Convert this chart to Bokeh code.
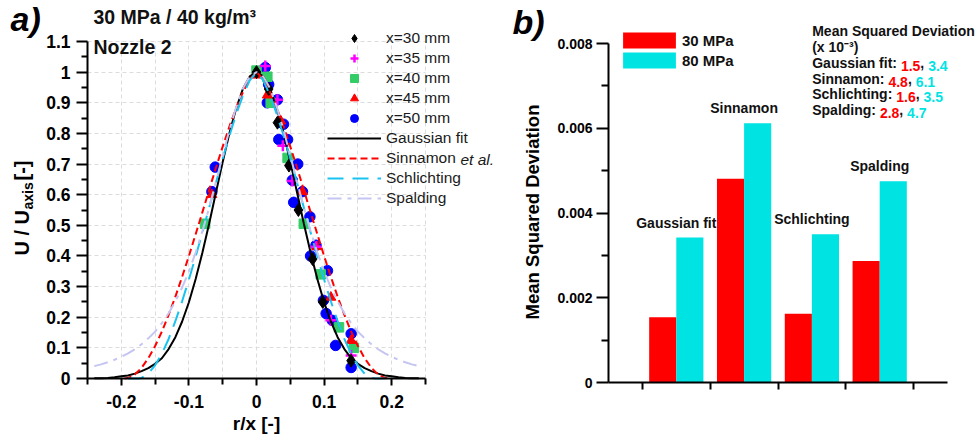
from math import pi
from bokeh.plotting import figure
from bokeh.layouts import row
from bokeh.models import Range1d, FixedTicker, Legend, LegendItem, Label, ColumnDataSource
from bokeh.embed import file_html
from bokeh.resources import INLINE
from bokeh.core.properties import value
from bokeh.transform import dodge

FONT = "Liberation Sans"

# ---------------- panel a) : measured points ----------------
r30 = [0.0, 0.018, 0.031, 0.048, 0.062, 0.083, 0.098, 0.140]
u30 = [1.0, 0.945, 0.835, 0.695, 0.55, 0.39, 0.25, 0.058]

r35 = [0.013, 0.031, 0.039, 0.053, 0.088, 0.110, 0.140]
u35 = [1.02, 0.91, 0.76, 0.645, 0.43, 0.19, 0.075]

r40 = [-0.076, 0.0, 0.016, 0.021, 0.046, 0.070, 0.095, 0.122, 0.144]
u40 = [0.505, 1.005, 0.985, 0.90, 0.72, 0.505, 0.34, 0.167, 0.10]

r45 = [-0.066, 0.0, 0.016, 0.036, 0.068, 0.089, 0.110, 0.140]
u45 = [0.60, 0.99, 0.925, 0.84, 0.61, 0.43, 0.265, 0.124]

r50 = [-0.066, -0.061, 0.013, 0.018, 0.016, 0.031, 0.040, 0.033, 0.046, 0.061,
       0.053, 0.055, 0.068, 0.079, 0.088, 0.080, 0.105, 0.099, 0.103, 0.112,
       0.117, 0.140, 0.140]
u50 = [0.61, 0.69, 1.015, 0.96, 0.90, 0.91, 0.83, 0.78, 0.78, 0.70,
       0.647, 0.575, 0.61, 0.528, 0.435, 0.40, 0.352, 0.255, 0.212, 0.19,
       0.108, 0.146, 0.036]

# ---------------- panel a) : model curves (half profiles, r/x >= 0) ----------------
gauss_r = [0.00, 0.01, 0.02, 0.03, 0.04, 0.05, 0.06, 0.07, 0.08, 0.09, 0.10, 0.11, 0.12,
           0.13, 0.14, 0.15, 0.16, 0.17, 0.18, 0.19, 0.20, 0.21, 0.22, 0.23, 0.24]
gauss_u = [1.0, 0.986, 0.946, 0.882, 0.801, 0.707, 0.607, 0.506, 0.411, 0.325, 0.249, 0.186,
           0.135, 0.096, 0.066, 0.048, 0.034, 0.024, 0.016, 0.010, 0.007, 0.004, 0.002, 0.001, 0.0005]

sinn_r = [0.00, 0.01, 0.02, 0.03, 0.04, 0.05, 0.06, 0.07, 0.08, 0.09, 0.10, 0.11, 0.12,
          0.13, 0.14, 0.15, 0.16, 0.17, 0.18, 0.19, 0.195]
sinn_u = [1.0, 0.977, 0.935, 0.883, 0.823, 0.757, 0.688, 0.616, 0.543, 0.471, 0.400, 0.332,
          0.267, 0.208, 0.153, 0.106, 0.066, 0.035, 0.0128, 0.0015, 0.0]

schl_r = [0.00, 0.01, 0.02, 0.03, 0.04, 0.05, 0.06, 0.07, 0.08, 0.09, 0.10, 0.11, 0.12,
          0.13, 0.14, 0.15, 0.16, 0.17, 0.175, 0.19]
schl_u = [1.0, 0.973, 0.924, 0.863, 0.793, 0.718, 0.639, 0.558, 0.477, 0.398, 0.323, 0.252,
          0.187, 0.129, 0.081, 0.043, 0.016, 0.0018, 0.0, 0.0]

spal_r = [0.00, 0.01, 0.02, 0.03, 0.04, 0.05, 0.06, 0.07, 0.08, 0.09, 0.10, 0.11, 0.12,
          0.13, 0.14, 0.15, 0.16, 0.17, 0.18, 0.19, 0.20, 0.21, 0.22, 0.23, 0.24]
spal_u = [1.0, 0.986, 0.947, 0.886, 0.811, 0.727, 0.642, 0.558, 0.481, 0.411, 0.350, 0.297,
          0.252, 0.213, 0.181, 0.153, 0.131, 0.112, 0.0955, 0.0821, 0.0707, 0.0612, 0.0531,
          0.0462, 0.0404]

xa_ticks = [-0.2, -0.1, 0, 0.1, 0.2]
xa_labels = ["-0.2", "-0.1", "0", "0.1", "0.2"]
xa_minor = [-0.25, -0.15, -0.05, 0.05, 0.15, 0.25]
ya_ticks = [0, 0.1, 0.2, 0.3, 0.4, 0.5, 0.6, 0.7, 0.8, 0.9, 1, 1.1]
ya_labels = ["0", "0.1", "0.2", "0.3", "0.4", "0.5", "0.6", "0.7", "0.8", "0.9", "1", "1.1"]
ya_minor = [0.05, 0.15, 0.25, 0.35, 0.45, 0.55, 0.65, 0.75, 0.85, 0.95, 1.05]

# ---------------- panel b) : mean squared deviation ----------------
methods = ["Gaussian fit", "Sinnamon", "Schlichting", "Spalding"]
msd_30 = [0.00154, 0.00481, 0.00162, 0.00287]
msd_80 = [0.00342, 0.00612, 0.00350, 0.00475]
msd_txt_30 = ["1.5", "4.8", "1.6", "2.8"]
msd_txt_80 = ["3.4", "6.1", "3.5", "4.7"]
yb_ticks = [0, 0.002, 0.004, 0.006, 0.008]
yb_labels = ["0", "0.002", "0.004", "0.006", "0.008"]
yb_minor = [0.001, 0.003, 0.005, 0.007]
xb_ticks = [0.5, 1.5, 2.5, 3.5, 4.5]

RED = "#ff0000"
CYAN = "#00e3e3"
TXT = "#111111"
H = 445


def mirror(r, u):
    rr = [-v for v in reversed(r[1:])] + list(r)
    uu = list(reversed(u[1:])) + list(u)
    return rr, uu


def full_frame_ranges(W, ax_l, ax_r, ax_t, ax_b, x0, x1, y0, y1):
    """Ranges so that the data box [x0,x1]x[y0,y1] lands on the given pixel box,
    with the plot frame covering the whole canvas (texts are then never clipped)."""
    kx = (ax_r - ax_l) / (x1 - x0)
    ky = (ax_b - ax_t) / (y1 - y0)
    return (Range1d(x0 - ax_l / kx, x1 + (W - ax_r) / kx),
            Range1d(y0 - (H - ax_b) / ky, y1 + ax_t / ky))


def style_axis(ax, size):
    ax.axis_line_width = 2
    ax.axis_line_color = "black"
    ax.major_tick_line_width = 2
    ax.minor_tick_line_width = 2
    ax.major_tick_in = 0
    ax.minor_tick_in = 0
    ax.major_label_text_font = FONT
    ax.major_label_text_font_style = "bold"
    ax.major_label_text_font_size = size
    ax.major_label_text_color = "black"


def add_label(p, x, y, text, size, style="bold", color=TXT, **kw):
    p.add_layout(Label(x=x, y=y, x_units="screen", y_units="screen", text=text,
                       text_font=FONT, text_font_size=size, text_font_style=style,
                       text_color=color, **kw))


# ============ figure a ============
W1 = 500
xr1, yr1 = full_frame_ranges(W1, 87, 425, 41, 378, -0.25, 0.25, 0.0, 1.1)
p1 = figure(width=W1, height=H, x_range=xr1, y_range=yr1, output_backend="svg",
            toolbar_location=None, min_border=0)
p1.outline_line_color = None
p1.background_fill_color = "white"
p1.border_fill_color = "white"

p1.xaxis.fixed_location = 0
p1.yaxis.fixed_location = -0.25
p1.xaxis.bounds = (-0.25, 0.25)
p1.yaxis.bounds = (0, 1.1)
xt1 = FixedTicker(ticks=xa_ticks, minor_ticks=xa_minor)
yt1 = FixedTicker(ticks=ya_ticks, minor_ticks=ya_minor)
p1.xaxis.ticker = xt1
p1.yaxis.ticker = yt1
p1.xaxis.major_label_overrides = {t: s for t, s in zip(xa_ticks, xa_labels)}
p1.yaxis.major_label_overrides = {t: s for t, s in zip(ya_ticks, ya_labels)}
style_axis(p1.xaxis[0], "17.5px")
style_axis(p1.yaxis[0], "17.5px")
p1.xaxis.major_tick_out = 7
p1.xaxis.minor_tick_out = 6
p1.yaxis.major_tick_out = 11
p1.yaxis.minor_tick_out = 6
p1.xaxis.major_label_standoff = 9
p1.yaxis.major_label_standoff = 6

p1.xgrid.ticker = xt1
p1.ygrid.ticker = yt1
p1.xgrid.bounds = (-0.25, 0.25)
p1.ygrid.bounds = (0, 1.1)
p1.xgrid.cross_bounds = (0, 1.1)
p1.ygrid.cross_bounds = (-0.25, 0.25)
p1.xgrid.grid_line_color = "#dcdcdc"
p1.xgrid.grid_line_dash = "4 3"
p1.xgrid.minor_grid_line_color = "#dcdcdc"
p1.xgrid.minor_grid_line_dash = "4 3"
p1.ygrid.grid_line_color = "#dcdcdc"
p1.ygrid.grid_line_dash = "4 3"

s50 = p1.scatter(r50, u50, marker="circle", size=10.5, color="#0000ff")
s40 = p1.scatter(r40, u40, marker="square", size=9.5, color="#33cc66")
s45 = p1.scatter(r45, u45, marker="triangle", size=10, color=RED)
s35 = p1.scatter(r35, u35, marker="cross", size=11, line_color="#ff00ff", line_width=2.5)
s30 = p1.scatter(r30, u30, marker="diamond", size=13, color="black")

gx, gy = mirror(gauss_r, gauss_u)
sx, sy = mirror(sinn_r, sinn_u)
cx, cy = mirror(schl_r, schl_u)
px, py = mirror(spal_r, spal_u)
lg = p1.line(gx, gy, line_color="black", line_width=2)
ls = p1.line(sx, sy, line_color=RED, line_width=2, line_dash="7 4")
lc = p1.line(cx, cy, line_color="#19c3f0", line_width=2, line_dash="16 9")
lp = p1.line(px, py, line_color="#c5c5f2", line_width=2, line_dash="14 6 4 6")

leg1 = Legend(items=[
    LegendItem(label="x=30 mm", renderers=[s30]),
    LegendItem(label="x=35 mm", renderers=[s35]),
    LegendItem(label="x=40 mm", renderers=[s40]),
    LegendItem(label="x=45 mm", renderers=[s45]),
    LegendItem(label="x=50 mm", renderers=[s50]),
    LegendItem(label="Gaussian fit", renderers=[lg]),
    LegendItem(label="Sinnamon", renderers=[ls]),
    LegendItem(label="Schlichting", renderers=[lc]),
    LegendItem(label="Spalding", renderers=[lp]),
], location=(317, H - 218), glyph_width=54, glyph_height=20, label_height=20, spacing=0,
    padding=10, margin=0, label_standoff=5, background_fill_alpha=0, border_line_alpha=0,
    label_text_font=FONT, label_text_font_size="15.5px", label_text_color="#1a1a1a")
p1.add_layout(leg1)

add_label(p1, 460, H - 159, "et al.", "15.5px", style="italic", color="#1a1a1a",
          text_baseline="middle")
add_label(p1, 10, H - 37, "a)", "34px", style="bold italic", color="black")
add_label(p1, 93, H - 27, "30 MPa / 40 kg/m³", "19.5px")
add_label(p1, 93, H - 57, "Nozzle 2", "19.5px")
add_label(p1, 256, H - 433, "r/x [-]", "19px", color="black", text_align="center")
# y label: U / U_axis [-]
add_label(p1, 32, H - 255, "U / U", "20px", color="black", angle=pi / 2)
add_label(p1, 35, H - 255 + 46, "axis", "14px", color="black", angle=pi / 2)
add_label(p1, 32, H - 255 + 75, " [-]", "20px", color="black", angle=pi / 2)

# ============ figure b ============
W2 = 479
xr2, yr2 = full_frame_ranges(W2, 108, 447, 43, 382, 0.0, 5.0, 0.0, 0.008)
p2 = figure(width=W2, height=H, x_range=xr2, y_range=yr2, output_backend="svg",
            toolbar_location=None, min_border=0)
p2.outline_line_color = None
p2.grid.visible = False
p2.background_fill_color = "white"
p2.border_fill_color = "white"

src = ColumnDataSource(dict(pos=[1, 2, 3, 4], method=methods, m30=msd_30, m80=msd_80,
                            top=[max(a, b) for a, b in zip(msd_30, msd_80)]))
b30 = p2.vbar(x=dodge("pos", -0.2, range=p2.x_range), top="m30", width=0.4, source=src,
              fill_color=RED, line_color=None)
b80 = p2.vbar(x=dodge("pos", 0.2, range=p2.x_range), top="m80", width=0.4, source=src,
              fill_color=CYAN, line_color=None)
p2.text(x="pos", y="top", text="method", source=src, text_align="center",
        text_baseline="bottom", y_offset=-7, text_font=value(FONT), text_font_size="14px",
        text_font_style="bold", text_color=TXT)

p2.xaxis.fixed_location = 0
p2.yaxis.fixed_location = 0
p2.xaxis.bounds = (0, 5)
p2.yaxis.bounds = (0, 0.008)
p2.yaxis.ticker = FixedTicker(ticks=yb_ticks, minor_ticks=yb_minor)
p2.yaxis.major_label_overrides = {t: s for t, s in zip(yb_ticks, yb_labels)}
p2.xaxis.ticker = FixedTicker(ticks=xb_ticks, minor_ticks=[])
p2.xaxis.major_label_overrides = {t: "" for t in xb_ticks}
style_axis(p2.xaxis[0], "14px")
style_axis(p2.yaxis[0], "14px")
p2.yaxis.major_tick_out = 12
p2.yaxis.minor_tick_out = 7
p2.xaxis.major_tick_out = 7
p2.yaxis.major_label_standoff = 4

leg2 = Legend(items=[LegendItem(label="30 MPa", renderers=[b30]),
                     LegendItem(label="80 MPa", renderers=[b80])],
              location=(106, H - 80), glyph_width=66, glyph_height=20, label_height=20,
              spacing=0, padding=10, margin=0, label_standoff=0, background_fill_alpha=0,
              border_line_alpha=0, label_text_font=FONT, label_text_font_size="15px",
              label_text_font_style="bold", label_text_color=TXT)
p2.add_layout(leg2)

add_label(p2, 12, H - 40, "b)", "34px", style="bold italic", color="black")
add_label(p2, 42, H - 211.5, "Mean Squared Deviation", "18.5px", color="black",
          angle=pi / 2, text_align="center")

# Arial/Liberation Sans Bold advance widths (per 1000 em) to place coloured pieces
BOLD_W = {' ': 278, ':': 333, ',': 278, '.': 278, 'G': 778, 'S': 667, 'a': 556, 'u': 611,
          's': 556, 'i': 278, 'n': 611, 'f': 333, 't': 333, 'm': 889, 'o': 611, 'c': 556,
          'h': 611, 'l': 278, 'g': 611, 'p': 611, 'd': 611}
for d in "0123456789":
    BOLD_W[d] = 556


def tw(s, size):
    return sum(BOLD_W.get(c, 556) for c in s) * size / 1000.0


TB_X = 311.7
TB_SIZE = 14
tb_base = [38.3, 54, 70, 86, 101.7, 117.3]

add_label(p2, TB_X, H - tb_base[0], "Mean Squared Deviation", f"{TB_SIZE}px")
add_label(p2, TB_X, H - tb_base[1], "(x 10\u207b\u00b3)", f"{TB_SIZE}px")
for i, m in enumerate(methods):
    y = H - tb_base[i + 2]
    pieces = [(m + ": ", TXT), (msd_txt_30[i], RED), (", ", TXT), (msd_txt_80[i], CYAN)]
    x = TB_X
    for s, c in pieces:
        add_label(p2, x, y, s, f"{TB_SIZE}px", color=c)
        x += tw(s, TB_SIZE)

layout = row(p1, p2)
open("out.html", "w").write(file_html(layout, INLINE))
